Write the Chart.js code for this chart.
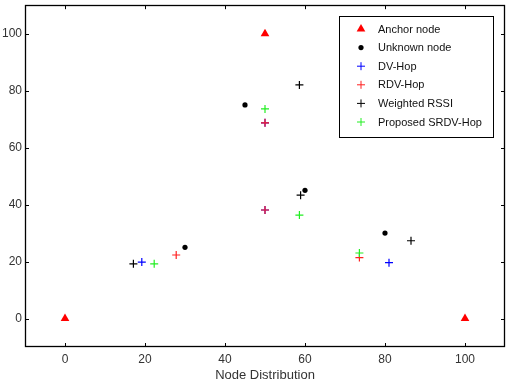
<!DOCTYPE html>
<html>
<head>
<meta charset="utf-8">
<script src="https://cdn.jsdelivr.net/npm/chart.js@4.4.1/dist/chart.umd.min.js"></script>
<style>
html,body{margin:0;padding:0;background:#fff;}
#wrap{width:511px;height:380px;position:relative;}
</style>
</head>
<body>
<div id="wrap"><canvas id="c" width="511" height="380"></canvas></div>
<script>
// ---- data ----
const seriesNames = ['Anchor node','Unknown node','DV-Hop','RDV-Hop','Weighted RSSI','Proposed SRDV-Hop'];
const anchorX = [0, 50, 100];
const anchorY = [0, 100, 0];
const unknownX = [45, 30, 60, 80];
const unknownY = [75, 25, 45, 30];
const dvHopX = [19.2, 50, 50, 81];
const dvHopY = [19.8, 68.7, 38.1, 19.6];
const rdvHopX = [27.8, 50, 50, 73.6];
const rdvHopY = [22.3, 68.7, 38.1, 21.4];
const rssiX = [17.1, 58.6, 58.9, 86.5];
const rssiY = [19.2, 82, 43.3, 27.3];
const srdvX = [22.3, 50, 58.6, 73.6];
const srdvY = [19.2, 73.6, 36.3, 23.0];
const xTicks = [0, 20, 40, 60, 80, 100];
const yTicks = [0, 20, 40, 60, 80, 100];
const xTitle = 'Node Distribution';

function pts(xs, ys){ return xs.map((x,i)=>({x:x, y:ys[i]})); }

const styles = [
  {pointStyle:'triangle', radius:5, color:'#ff0000', fill:true},
  {pointStyle:'circle', radius:2.6, color:'#000000', fill:true},
  {pointStyle:'cross', radius:4, color:'#0000ff', fill:false},
  {pointStyle:'cross', radius:4, color:'#ff2020', fill:false},
  {pointStyle:'cross', radius:4, color:'#000000', fill:false},
  {pointStyle:'cross', radius:4, color:'#22ee22', fill:false}
];
const dataSets = [pts(anchorX,anchorY), pts(unknownX,unknownY), pts(dvHopX,dvHopY), pts(rdvHopX,rdvHopY), pts(rssiX,rssiY), pts(srdvX,srdvY)];

const datasets = dataSets.map((d,i)=>({
  label: seriesNames[i],
  data: d,
  pointStyle: styles[i].pointStyle,
  pointRadius: styles[i].radius,
  pointHoverRadius: styles[i].radius,
  pointBackgroundColor: styles[i].color,
  pointBorderColor: styles[i].color,
  pointBorderWidth: styles[i].fill ? 0 : 1.2,
  showLine: false,
  order: 10 - i
}));

const frameAndLegend = {
  id: 'frameAndLegend',
  afterDatasetsDraw(chart){
    const ctx = chart.ctx;
    const a = chart.chartArea;
    const xs = chart.scales.x, ys = chart.scales.y;
    ctx.save();
    ctx.strokeStyle = '#000';
    ctx.lineWidth = 1;
    // inward ticks
    ctx.beginPath();
    xTicks.forEach(v=>{
      const px = Math.round(xs.getPixelForValue(v)) + 0.5;
      ctx.moveTo(px, a.bottom); ctx.lineTo(px, a.bottom - 4);
      ctx.moveTo(px, a.top); ctx.lineTo(px, a.top + 4);
    });
    yTicks.forEach(v=>{
      const py = Math.round(ys.getPixelForValue(v)) + 0.5;
      ctx.moveTo(a.left, py); ctx.lineTo(a.left + 4, py);
      ctx.moveTo(a.right, py); ctx.lineTo(a.right - 4, py);
    });
    ctx.stroke();
    // frame
    ctx.lineWidth = 1.3;
    ctx.strokeRect(Math.round(a.left)+0.5, Math.round(a.top)+0.5, Math.round(a.right-a.left)-1, Math.round(a.bottom-a.top)-1);
    // legend
    const lx = 339.5, ly = 16.5, lw = 154, lh = 121;
    ctx.fillStyle = '#fff';
    ctx.fillRect(lx, ly, lw, lh);
    ctx.lineWidth = 1;
    ctx.strokeStyle = '#000';
    ctx.strokeRect(lx, ly, lw, lh);
    ctx.font = '11px "Liberation Sans", Arial, sans-serif';
    ctx.textBaseline = 'middle';
    ctx.textAlign = 'left';
    chart.data.datasets.forEach((ds,i)=>{
      const y = 29 + i*18.6;
      ctx.fillStyle = ds.pointBackgroundColor;
      ctx.strokeStyle = ds.pointBorderColor;
      Chart.helpers.drawPoint(ctx, {pointStyle: ds.pointStyle, radius: ds.pointRadius, rotation: 0, borderWidth: ds.pointBorderWidth}, 361, y);
      ctx.fillStyle = '#111';
      ctx.fillText(ds.label, 378, y + 0.5);
    });
    ctx.restore();
  }
};

new Chart(document.getElementById('c'), {
  type: 'scatter',
  data: { datasets },
  options: {
    responsive: false,
    animation: false,
    devicePixelRatio: 1,
    layout: { padding: { top: 0, right: 6, left: 0, bottom: 0 } },
    plugins: { legend: { display: false }, tooltip: { enabled: false } },
    scales: {
      x: {
        type: 'linear', min: -10, max: 110,
        grid: { display: false, drawTicks: false },
        border: { display: false },
        afterBuildTicks(s){ s.ticks = xTicks.map(v=>({value:v})); },
        afterFit(s){ s.height = 33; },
        ticks: { color: '#333', padding: 5, maxRotation: 0, autoSkip: false,
          font: { family: '"Liberation Sans", Arial, sans-serif', size: 12 } },
        title: { display: true, text: xTitle, color: '#333', padding: { top: 0, bottom: -3 },
          font: { family: '"Liberation Sans", Arial, sans-serif', size: 13 } }
      },
      y: {
        type: 'linear', min: -10, max: 110,
        grid: { display: false, drawTicks: false },
        border: { display: false },
        afterBuildTicks(s){ s.ticks = yTicks.map(v=>({value:v})); },
        afterFit(s){ s.width = 25; s.paddingTop = 0; s.paddingBottom = 0; },
        ticks: { color: '#333', padding: 3, autoSkip: false,
          font: { family: '"Liberation Sans", Arial, sans-serif', size: 12 } }
      }
    }
  },
  plugins: [frameAndLegend]
});
</script>
</body>
</html>
